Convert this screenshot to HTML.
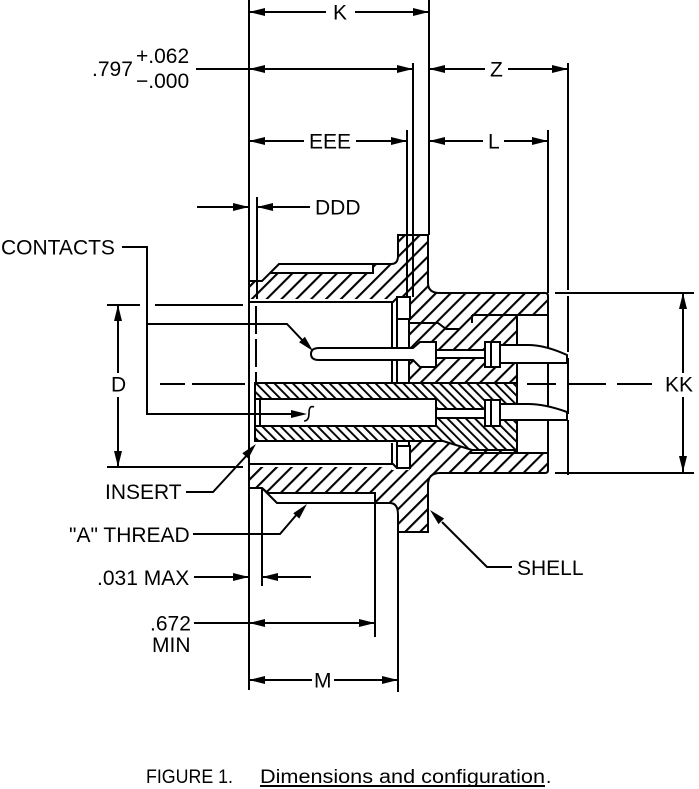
<!DOCTYPE html>
<html><head><meta charset="utf-8"><style>
html,body{margin:0;padding:0;background:#fff;}
svg{display:block;}
text{font-family:"Liberation Sans",Arial,sans-serif;fill:#000;}
</style></head><body>
<svg width="699" height="789" viewBox="0 0 699 789" xmlns="http://www.w3.org/2000/svg">
<defs>
<pattern id="h1" patternUnits="userSpaceOnUse" width="10.5" height="10.5" patternTransform="rotate(45)"><rect x="0" y="0" width="2.1" height="10.5" fill="#000"/></pattern>
<pattern id="h2" patternUnits="userSpaceOnUse" width="6.5" height="6.5" patternTransform="rotate(-45)"><rect x="0" y="0" width="1.9" height="6.5" fill="#000"/></pattern>
</defs>
<rect width="699" height="789" fill="#fff"/>

<!-- SHELL -->
<path d="M249,281 L262,281 L270,273 L373,273 L373,264 L391,264 Q398,264 398,256 L398,235 L428,235 L428,283 Q428,293 440,293 L545,293 Q548,293 548,296 L548,470 Q548,473 545,473 L440,473 Q428,473 428,485 L428,532 L398,532 L398,515 Q398,503 390,503 L375,503 L375,493 L268,493 L262,488 L249,488 Z" fill="url(#h1)" stroke="#000" stroke-width="2"/>
<path d="M270,273 L279,264 L373,264 M262,488 L277,503 L375,503" fill="none" stroke="#000" stroke-width="2"/>

<!-- white cavities -->
<rect x="250" y="299" width="143" height="168" fill="#fff"/>
<rect x="392" y="296" width="17" height="88" fill="#fff"/>
<rect x="392" y="440" width="17" height="30" fill="#fff"/>
<rect x="517" y="315" width="30" height="138" fill="#fff"/>

<g fill="none" stroke="#000" stroke-width="2">
<path d="M249,302 H393 L397,298 M249,464 H393 L397,468"/>
<path d="M392,302 V383 M392,443 V464"/>
<rect x="397" y="297" width="13" height="22" fill="#fff"/>
<path d="M397,319 V383 M409,319 V383"/>
<rect x="397" y="446" width="13" height="22" fill="#fff"/>
<path d="M397,441 V446 M409,441 V446"/>
<path d="M409,323 H438 L446,329 H460 M472,315 H547 M472,315 V323 M517,315 V453 M470,453 H547"/>
</g>

<!-- FRONT INSERT -->
<path d="M255,383 H517 V450 H472 L443,441 H255 Z" fill="#fff"/>
<path d="M255,383 H517 V450 H472 L443,441 H255 Z" fill="url(#h2)" stroke="#000" stroke-width="2"/>
<rect x="256" y="399" width="180" height="27" fill="#fff"/>
<path d="M255,399 H436 V426 H255 M260,399 V426" fill="none" stroke="#000" stroke-width="2"/>

<!-- CONTACTS -->
<g fill="#fff" stroke="#000" stroke-width="2">
<path d="M319,348 H413 L420,342 H436 V367 H420 L413,360 H319 Q311,360 311,354 Q311,348 319,348 Z"/>
<rect x="436" y="350" width="49" height="8"/>
<rect x="485" y="342" width="15" height="25"/>
<path d="M500,345 H528 Q545,345 567,355 V363 H500 Z"/>
<path d="M491,342 V367" fill="none"/>
<rect x="436" y="409" width="49" height="9"/>
<rect x="485" y="400" width="15" height="26"/>
<path d="M500,404 H528 Q545,404 567,412 V420 H500 Z"/>
<path d="M491,400 V426" fill="none"/>
</g>
<path d="M314,407 Q309,405 309,413 Q309,421 304,421" fill="none" stroke="#000" stroke-width="1.6"/>

<!-- DIMENSION / EXTENSION LINES -->
<g fill="none" stroke="#000" stroke-width="2">
<path d="M249,0 V690"/>
<path d="M429,0 V235"/>
<path d="M413,63 V297"/>
<path d="M407,130 V297"/>
<path d="M568,63 V290"/>
<path d="M568,296 V475" stroke-dasharray="56 6"/>
<path d="M548,130 V293"/>
<path d="M257,197 V299"/>
<path d="M256,306 V383" stroke-dasharray="28 5"/>
<path d="M262,488 V586"/>
<path d="M375,503 V637"/>
<path d="M398,532 V692"/>

<path d="M249,12 H326 M355,12 H429"/>
<path d="M196,69 H413"/>
<path d="M429,69 H485 M508,69 H568"/>
<path d="M249,141 H304 M356,141 H407"/>
<path d="M429,141 H483 M504,141 H548"/>
<path d="M197,207 H249 M257,207 H310"/>
<path d="M118,305 V373 M118,397 V467"/>
<path d="M107,305 H140 M155,305 H243 M107,467 H243"/>
<path d="M160,384 H185 M192,384 H245"/>
<path d="M527,384 H556 M568,384 H606 M617,384 H652"/>
<path d="M683,293 V373 M683,397 V472"/>
<path d="M555,293 H694 M555,473 H694"/>
<path d="M194,577 H249 M262,577 H311"/>
<path d="M194,623 H375"/>
<path d="M249,680 H312 M334,680 H398"/>

<path d="M122,247 H147 V414 H300"/>
<path d="M147,324 H287 L304,342"/>
<path d="M186,492 H213 L249,453"/>
<path d="M193,534 H280 L298,513"/>
<path d="M512,567 H487 L442,522"/>
</g>

<!-- ARROWHEADS -->
<g fill="#000" stroke="none">
<polygon points="249,12 265,8 265,16"/>
<polygon points="429,12 413,8 413,16"/>
<polygon points="249,69 265,65 265,73"/>
<polygon points="413,69 397,65 397,73"/>
<polygon points="429,69 445,65 445,73"/>
<polygon points="568,69 552,65 552,73"/>
<polygon points="249,141 265,137 265,145"/>
<polygon points="407,141 391,137 391,145"/>
<polygon points="429,141 445,137 445,145"/>
<polygon points="548,141 532,137 532,145"/>
<polygon points="249,207 233,203 233,211"/>
<polygon points="257,207 273,203 273,211"/>
<polygon points="118,305 114,321 122,321"/>
<polygon points="118,467 114,451 122,451"/>
<polygon points="683,293 679,309 687,309"/>
<polygon points="683,472 679,456 687,456"/>
<polygon points="249,577 233,573 233,581"/>
<polygon points="262,577 278,573 278,581"/>
<polygon points="249,623 265,619 265,627"/>
<polygon points="375,623 359,619 359,627"/>
<polygon points="249,680 265,676 265,684"/>
<polygon points="398,680 382,676 382,684"/>
<polygon points="307,414 291,410 291,418"/>
<polygon points="313,351 299.1,342.3 304.9,336.7"/>
<polygon points="256,444 248.3,458.6 242.3,453.2"/>
<polygon points="307,504 299.3,518.6 293.3,513.2"/>
<polygon points="430,510 444.1,518.5 438.5,524.1"/>
</g>

<!-- LABELS -->
<g font-size="21">
<text x="333" y="19.5">K</text>
<text x="92" y="76">.797</text>
<text x="136" y="63">+.062</text>
<text x="136" y="88">−.000</text>
<text x="490" y="76.5">Z</text>
<text x="309" y="148.5">EEE</text>
<text x="488" y="148.5">L</text>
<text x="315" y="214.5">DDD</text>
<text x="1" y="254.5">CONTACTS</text>
<text x="111" y="391.5">D</text>
<text x="665" y="391.5">KK</text>
<text x="105" y="499">INSERT</text>
<text x="69" y="542">"A" THREAD</text>
<text x="97" y="585">.031 MAX</text>
<text x="150" y="630.5">.672</text>
<text x="152" y="652">MIN</text>
<text x="314" y="687.5">M</text>
<text x="517" y="575">SHELL</text>
</g>

<!-- CAPTION -->
<text x="146" y="783" font-size="19" textLength="87" lengthAdjust="spacingAndGlyphs">FIGURE 1.</text>
<text x="260" y="783" font-size="19" textLength="285" lengthAdjust="spacingAndGlyphs">Dimensions and configuration</text>
<text x="546" y="783" font-size="19">.</text>
<rect x="260" y="785" width="285" height="2" fill="#000"/>
</svg>
</body></html>
